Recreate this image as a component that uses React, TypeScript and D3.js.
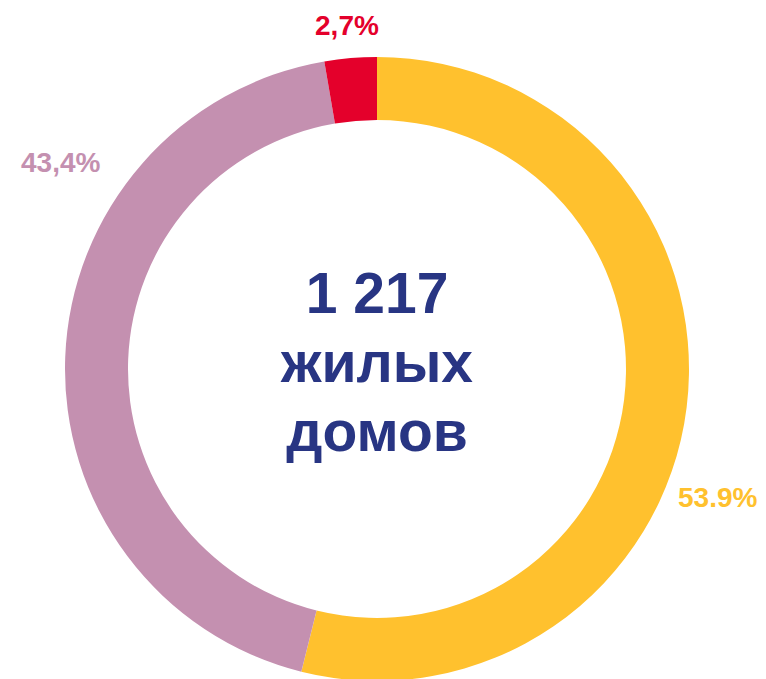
import React from 'react';
import * as d3 from 'd3';

const categories = ['yellow', 'pink', 'red'];
const values = [53.9, 43.4, 2.7];
const labels = ['53.9%', '43,4%', '2,7%'];
const colors = ['#FFC12E', '#C490B0', '#E4002B'];
const centerLines = ['1 217', 'жилых', 'домов'];

// label placement (degrees clockwise from 12 o'clock, distance from centre)
const labelPlace = [
  { angle: 110.6, r: 364 },
  { angle: 303.2, r: 378 },
  { angle: 355.0, r: 345 },
];

const App = () => {
  const width = 766;
  const height = 679;
  const cx = 377;
  const cy = 369;
  const outerR = 312;
  const innerR = 249;

  const pie = d3.pie<number>().value(d => d).sort(null);
  const arcs = pie(values);
  const arc = d3.arc<d3.PieArcDatum<number>>().innerRadius(innerR).outerRadius(outerR);

  return (
    <svg
      width={width}
      height={height}
      style={{ position: 'absolute', left: 0, top: 0, display: 'block', background: '#fff' }}
      fontFamily="'Liberation Sans', Arial, sans-serif"
    >
      <g transform={`translate(${cx},${cy})`}>
        {arcs.map((a, i) => (
          <path key={categories[i]} d={arc(a) || ''} fill={colors[i]} />
        ))}
        {labels.map((t, i) => {
          const ang = (labelPlace[i].angle * Math.PI) / 180;
          const x = labelPlace[i].r * Math.sin(ang);
          const y = -labelPlace[i].r * Math.cos(ang);
          return (
            <text key={t} x={x} y={y} dy="0.36em" textAnchor="middle" fontSize={28} fontWeight="bold" fill={colors[i]}>
              {t}
            </text>
          );
        })}
        {centerLines.map((t, i) => (
          <text key={t} x={0} y={-56 + i * 69} textAnchor="middle" fontSize={57} fontWeight="bold" fill="#283583">
            {t}
          </text>
        ))}
      </g>
    </svg>
  );
};

export default App;
